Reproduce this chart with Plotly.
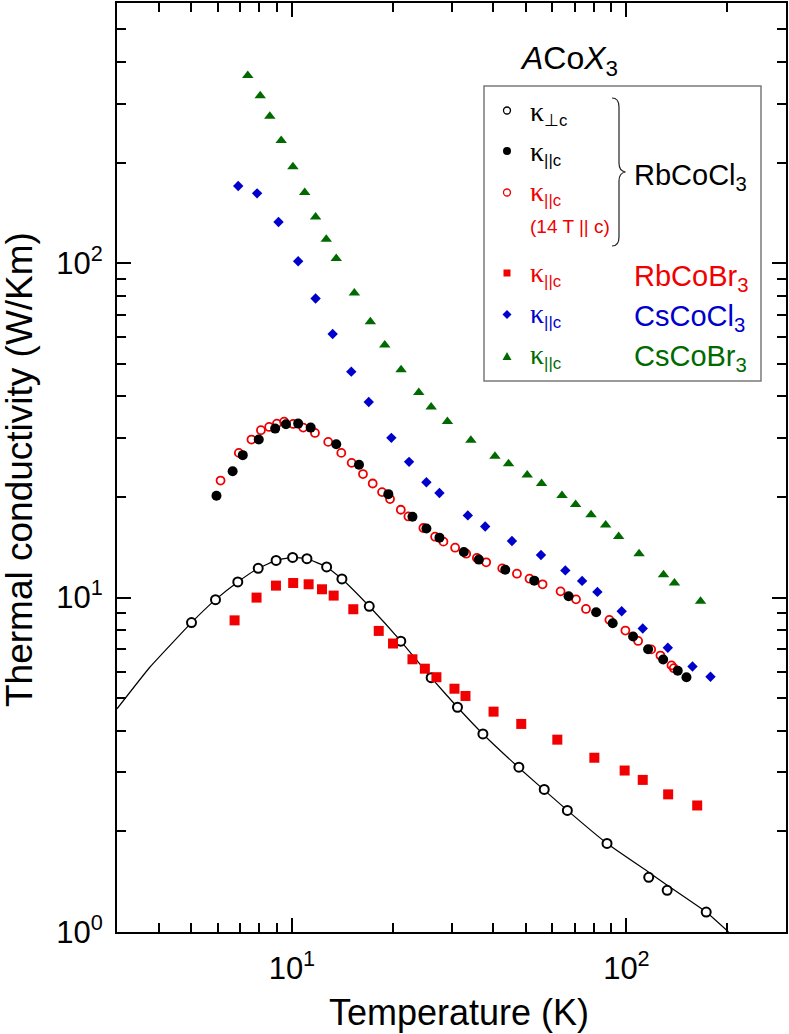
import plotly.graph_objects as go

# ---------------- data ----------------
# RbCoCl3, kappa perpendicular c (open black circles)
T_perp = [5.01, 5.91, 6.89, 7.93, 8.97, 10.05, 11.09, 12.70, 14.11, 17.03, 21.16,
          26.08, 31.26, 37.24, 47.7, 56.8, 66.6, 87.5, 116.6, 132.4, 173.2]
k_perp = [8.42, 9.86, 11.14, 12.23, 12.92, 13.19, 13.07, 12.35, 11.37, 9.42, 7.41,
          5.76, 4.70, 3.91, 3.11, 2.67, 2.31, 1.84, 1.457, 1.332, 1.147]

# fit curve through kappa perpendicular c (thin black line)
T_fit = [3.0, 3.76, 5.01, 5.91, 6.89, 7.93, 8.97, 10.05, 11.09, 12.70, 14.11, 17.03,
         21.16, 26.08, 31.26, 37.24, 47.7, 66.6, 87.5, 116.6, 132.4, 173.2, 202]
k_fit = [4.65, 6.19, 8.42, 9.86, 11.14, 12.23, 12.92, 13.19, 13.07, 12.35, 11.37, 9.42,
         7.41, 5.76, 4.70, 3.91, 3.10, 2.31, 1.84, 1.51, 1.38, 1.147, 1.0]

# RbCoCl3, kappa parallel c (filled black circles)
T_par = [5.95, 6.65, 7.13, 7.96, 8.91, 9.60, 10.44, 11.38, 13.57, 15.87, 19.42, 22.93,
         25.24, 27.61, 32.66, 36.22, 43.43, 53.04, 67.17, 81.2, 91.0, 104.7, 116.1,
         128.8, 142.4, 151.2]
k_par = [20.16, 23.88, 26.67, 29.69, 32.02, 33.0, 33.14, 32.24, 28.76, 24.95, 20.39,
         17.45, 16.10, 15.11, 13.69, 12.99, 12.12, 11.24, 10.09, 9.04, 8.38, 7.65, 7.01,
         6.53, 6.04, 5.78]

# RbCoCl3, kappa parallel c in 14 T || c (open red circles)
T_14T = [6.12, 6.94, 7.57, 8.08, 8.55, 9.02, 9.48, 10.09, 10.81, 11.72, 12.84, 14.05,
         15.09, 16.31, 17.44, 18.60, 19.65, 21.16, 22.30, 24.72, 26.80, 28.38, 30.76,
         33.19, 35.73, 38.09, 42.54, 47.07, 51.34, 56.15, 63.57, 70.69, 75.71, 88.95,
         99.3, 108.4, 118.6, 126.4, 136.4, 138.6]
k_14T = [22.39, 27.09, 29.69, 31.67, 32.39, 33.14, 33.6, 33.06, 32.24, 31.08, 29.22,
         27.09, 25.29, 23.41, 21.94, 20.68, 19.71, 18.31, 17.49, 16.15, 15.21, 14.70,
         14.10, 13.53, 13.14, 12.75, 12.23, 11.79, 11.39, 10.96, 10.44, 9.88, 9.25, 8.58,
         7.97, 7.42, 7.0, 6.71, 6.27, 6.15]

# RbCoBr3, kappa parallel c (red squares)
T_RbBr = [6.74, 7.84, 8.96, 10.09, 11.22, 12.30, 13.33, 15.26, 18.18, 20.06, 22.93,
          24.97, 27.04, 30.62, 33.03, 40.07, 48.49, 62.15, 80.2, 98.8, 111.9, 133.3, 162.8]
k_RbBr = [8.55, 10.0, 10.86, 11.06, 10.96, 10.59, 10.14, 9.23, 7.95, 7.29, 6.54,
          6.13, 5.78, 5.34, 5.08, 4.56, 4.19, 3.76, 3.32, 3.04, 2.85, 2.58, 2.39]

# CsCoCl3, kappa parallel c (blue diamonds)
T_CsCl = [6.91, 7.87, 9.12, 10.44, 11.77, 13.24, 15.05, 16.97, 19.83, 22.40, 25.24,
          27.61, 33.57, 37.83, 45.48, 55.54, 65.68, 73.72, 81.9, 96.8, 111.9, 133.0,
          157.6, 178.4]
k_CsCl = [170.1, 161.8, 132.8, 101.4, 78.4, 61.4, 47.4, 38.46, 30.04, 25.47, 22.12,
          20.54, 17.61, 16.32, 14.77, 13.41, 12.06, 11.22, 10.40, 9.10, 8.08, 7.08,
          6.22, 5.80]

# CsCoBr3, kappa parallel c (green triangles)
T_CsBr = [7.38, 8.04, 8.59, 9.29, 10.07, 10.92, 11.77, 12.67, 13.57, 15.37, 17.16,
          18.95, 21.20, 23.95, 26.08, 29.17, 34.28, 40.46, 44.43, 50.52, 55.77, 64.19,
          70.5, 78.4, 86.7, 94.8, 109.1, 129.1, 139.2, 166.6]
k_CsBr = [364, 316.7, 275.3, 232.9, 194.4, 162.6, 137.5, 117.9, 103.3, 81.4, 66.8,
          56.9, 48.0, 41.06, 37.17, 33.6, 29.56, 26.48, 25.12, 23.25, 21.94, 20.2,
          18.99, 17.69, 16.48, 15.24, 13.53, 11.71, 11.06, 9.75]

# axis ticks
x_major = [10, 100]
x_major_text = ["10<sup>1</sup>", "10<sup>2</sup>"]
x_minor = [4, 5, 6, 7, 8, 9, 20, 30, 40, 50, 60, 70, 80, 90, 200]
y_major = [1, 10, 100]
y_major_text = ["10<sup>0</sup>", "10<sup>1</sup>", "10<sup>2</sup>"]
y_minor = [2, 3, 4, 5, 6, 7, 8, 9, 20, 30, 40, 50, 60, 70, 80, 90, 200, 300, 400, 500]

# ---------------- styling ----------------
RED = "#f00000"
BLUE = "#0000cc"
GREEN = "#006a00"
SANS = "Liberation Sans, Arial, sans-serif"
SERIF = "Liberation Serif"

W, H = 789, 1034
L, R, TOP, BOT = 117, 786, 3, 932


def pxx(x):
    return (x - L) / (R - L)


def pxy(y):
    return (BOT - y) / (BOT - TOP)


fig = go.Figure()
fig.add_trace(go.Scatter(x=T_fit, y=k_fit, mode="lines",
                         line=dict(color="black", width=1.2, shape="spline", smoothing=0.35),
                         hoverinfo="skip"))
fig.add_trace(go.Scatter(x=T_perp, y=k_perp, mode="markers",
                         marker=dict(symbol="circle", size=9, color="white",
                                     line=dict(color="black", width=2))))
fig.add_trace(go.Scatter(x=T_RbBr, y=k_RbBr, mode="markers",
                         marker=dict(symbol="square", size=10, color=RED, line=dict(width=0))))
fig.add_trace(go.Scatter(x=T_14T, y=k_14T, mode="markers",
                         marker=dict(symbol="circle-open", size=8, color=RED,
                                     line=dict(color=RED, width=1.8))))
fig.add_trace(go.Scatter(x=T_par, y=k_par, mode="markers",
                         marker=dict(symbol="circle", size=10, color="black", line=dict(width=0))))
fig.add_trace(go.Scatter(x=T_CsCl, y=k_CsCl, mode="markers",
                         marker=dict(symbol="diamond", size=8, color=BLUE, line=dict(width=0))))
fig.add_trace(go.Scatter(x=T_CsBr, y=k_CsBr, mode="markers",
                         marker=dict(symbol="triangle-up", size=10, color=GREEN, line=dict(width=0))))

axis_common = dict(
    type="log", showline=True, linecolor="black", linewidth=2, mirror="allticks",
    ticks="inside", ticklen=14, tickwidth=2, tickcolor="black",
    showgrid=False, zeroline=False, tickmode="array", automargin=False,
    tickfont=dict(family=SANS, size=31, color="black"),
)

fig.update_xaxes(**axis_common, range=[0.47712, 2.47712], tickvals=x_major, ticktext=x_major_text,
                 ticklabelstandoff=8,
                 minor=dict(tickmode="array", tickvals=x_minor, ticks="inside", ticklen=9,
                            tickwidth=2, tickcolor="black", showgrid=False))
fig.update_yaxes(**axis_common, range=[0, 2.77815], tickvals=y_major, ticktext=y_major_text,
                 ticklabelstandoff=6,
                 minor=dict(tickmode="array", tickvals=y_minor, ticks="inside", ticklen=9,
                            tickwidth=2, tickcolor="black", showgrid=False))

shapes = []
# legend box
shapes.append(dict(type="rect", xref="paper", yref="paper",
                   x0=pxx(484), x1=pxx(761), y0=pxy(381), y1=pxy(86),
                   line=dict(color="#7a7a7a", width=1.5), fillcolor="rgba(0,0,0,0)"))
# legend markers
shapes.append(dict(type="circle", xref="paper", yref="paper",
                   x0=pxx(503.5), x1=pxx(510.5), y0=pxy(114), y1=pxy(107),
                   line=dict(color="black", width=1.3)))
shapes.append(dict(type="circle", xref="paper", yref="paper",
                   x0=pxx(503), x1=pxx(511), y0=pxy(155), y1=pxy(147),
                   line=dict(color="black", width=0), fillcolor="black"))
shapes.append(dict(type="circle", xref="paper", yref="paper",
                   x0=pxx(503.5), x1=pxx(510.5), y0=pxy(196), y1=pxy(189),
                   line=dict(color=RED, width=1.3)))
shapes.append(dict(type="rect", xref="paper", yref="paper",
                   x0=pxx(503.5), x1=pxx(510.5), y0=pxy(276.5), y1=pxy(269.5),
                   line=dict(width=0), fillcolor=RED))


def path(points):
    parts = []
    for cmd, pts in points:
        coords = " ".join(f"{pxx(a):.5f},{pxy(b):.5f}" for a, b in pts)
        parts.append(f"{cmd} {coords}")
    return " ".join(parts)


shapes.append(dict(type="path", xref="paper", yref="paper",
                   path=path([("M", [(507, 310)]), ("L", [(511.5, 314.5)]),
                              ("L", [(507, 319)]), ("L", [(502.5, 314.5)])]) + " Z",
                   line=dict(width=0), fillcolor=BLUE))
shapes.append(dict(type="path", xref="paper", yref="paper",
                   path=path([("M", [(502.5, 360)]), ("L", [(511.5, 360)]),
                              ("L", [(507, 352)])]) + " Z",
                   line=dict(width=0), fillcolor=GREEN))
# brace
shapes.append(dict(type="path", xref="paper", yref="paper",
                   path=path([("M", [(612, 98)]), ("Q", [(619, 98), (619, 107)]),
                              ("L", [(619, 163)]), ("Q", [(619, 171), (625.5, 172)]),
                              ("Q", [(619, 173), (619, 181)]), ("L", [(619, 237)]),
                              ("Q", [(619, 246), (612, 246)])]),
                   line=dict(color="#222222", width=1.2)))

annotations = []


def ann(text, x, y, size, color="black", xanchor="left", family=SANS, **kw):
    annotations.append(dict(text=text, x=pxx(x), y=pxy(y), xref="paper", yref="paper",
                            xanchor=xanchor, yanchor="middle", showarrow=False,
                            font=dict(family=family, size=size, color=color), **kw))


kappa_perp = f'<span style="font-family:{SERIF};font-size:28px">κ</span><sub>⊥c</sub>'
kappa_par = f'<span style="font-family:{SERIF};font-size:28px">κ</span><sub>||c</sub>'

ann(kappa_perp, 528, 113, 24)
ann(kappa_par, 528, 153, 24)
ann(kappa_par, 528, 193, 24, RED)
ann("(14 T || c)", 528, 226, 19, RED)
ann("RbCoCl<sub>3</sub>", 632, 177, 29)
ann(kappa_par, 528, 274, 24, RED)
ann("RbCoBr<sub>3</sub>", 632, 278, 29, RED)
ann(kappa_par, 528, 315, 24, BLUE)
ann("CsCoCl<sub>3</sub>", 632, 318, 29, BLUE)
ann(kappa_par, 528, 356, 24, GREEN)
ann("CsCoBr<sub>3</sub>", 632, 358, 29, GREEN)

# figure label
ann("<i>A</i>Co<i>X</i><sub>3</sub>", 569, 60, 32, xanchor="center")
# axis titles
ann("Temperature (K)", 459, 1012, 36, xanchor="center")
ann("Thermal conductivity (W/Km)", 19, 470, 37, xanchor="center", textangle=-90)

fig.update_layout(
    width=W, height=H, autosize=False,
    margin=dict(l=L, r=W - R, t=TOP, b=H - BOT, pad=0, autoexpand=False),
    paper_bgcolor="white", plot_bgcolor="white",
    showlegend=False, shapes=shapes, annotations=annotations,
    font=dict(family=SANS, color="black"),
)

fig.write_html("out.html", config={"responsive": False, "displayModeBar": False},
               post_script="document.body.style.margin='0px';document.body.style.padding='0px';"
                           "document.documentElement.style.overflow='hidden';")
